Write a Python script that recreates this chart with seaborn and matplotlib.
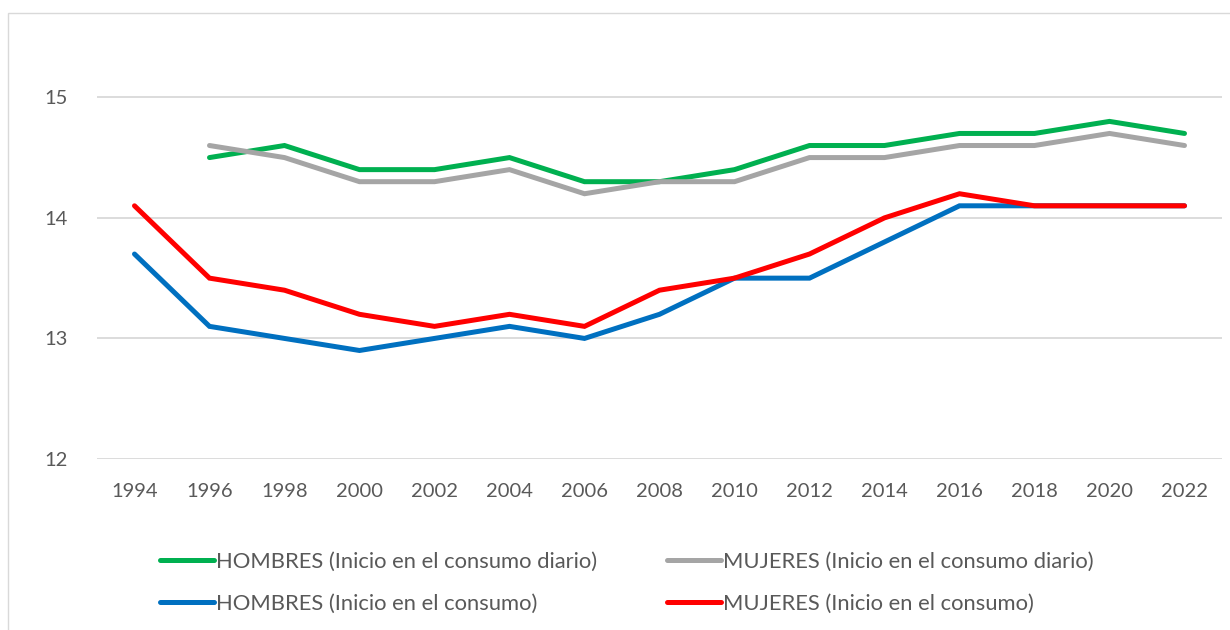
import pandas as pd
import numpy as np
import matplotlib.pyplot as plt
import seaborn as sns
from matplotlib.patches import Rectangle

years = list(range(1994, 2023, 2))
hombres_diario = [np.nan, 14.5, 14.6, 14.4, 14.4, 14.5, 14.3, 14.3, 14.4, 14.6, 14.6, 14.7, 14.7, 14.8, 14.7]
mujeres_diario = [np.nan, 14.6, 14.5, 14.3, 14.3, 14.4, 14.2, 14.3, 14.3, 14.5, 14.5, 14.6, 14.6, 14.7, 14.6]
hombres_inicio = [13.7, 13.1, 13.0, 12.9, 13.0, 13.1, 13.0, 13.2, 13.5, 13.5, 13.8, 14.1, 14.1, 14.1, 14.1]
mujeres_inicio = [14.1, 13.5, 13.4, 13.2, 13.1, 13.2, 13.1, 13.4, 13.5, 13.7, 14.0, 14.2, 14.1, 14.1, 14.1]

series = {
    'HOMBRES (Inicio en el consumo diario)': hombres_diario,
    'MUJERES (Inicio en el consumo diario)': mujeres_diario,
    'HOMBRES (Inicio en el consumo)': hombres_inicio,
    'MUJERES (Inicio en el consumo)': mujeres_inicio,
}
colors = ['#00B050', '#A5A5A5', '#0070C0', '#FF0000']

df = pd.DataFrame({'Año': years, **series})
long = df.melt(id_vars='Año', var_name='Serie', value_name='Edad').dropna()

sns.set_style('white')
plt.rcParams['font.family'] = ['Lato', 'DejaVu Sans']

fig = plt.figure(figsize=(12.3, 6.3), dpi=100)
ax = fig.add_axes([97 / 1230, 1 - 459 / 630, 1125 / 1230, 422 / 630])

sns.lineplot(data=long, x='Año', y='Edad', hue='Serie', hue_order=list(series.keys()),
             palette=colors, linewidth=3.6, ax=ax, legend=True,
             solid_capstyle='round', solid_joinstyle='miter')

ax.set_xlim(1993, 2023)
ax.set_ylim(12, 15.5)
ax.set_xticks(years)
ax.set_yticks([12, 13, 14, 15])
ax.set_xlabel('')
ax.set_ylabel('')
ax.grid(axis='y', color='#D9D9D9', linewidth=1.3)
ax.set_axisbelow(True)
for s in ax.spines.values():
    s.set_visible(False)
ax.tick_params(axis='both', length=0, labelsize=14.5, labelcolor='#595959')
ax.tick_params(axis='x', pad=17)
ax.tick_params(axis='y', pad=21)

# legend: 2 columns, rows green|gray and blue|red
handles, labels = ax.get_legend_handles_labels()
ax.get_legend().remove()
order = [0, 2, 1, 3]
leg = fig.legend([handles[i] for i in order], [labels[i] for i in order],
                 ncol=2, frameon=False, fontsize=15.8, labelcolor='#595959',
                 handlelength=2.45, handletextpad=0.1, columnspacing=3.2,
                 labelspacing=1.0, loc='upper left',
                 bbox_to_anchor=(140 / 1230, 1 - 532 / 630))
for h in leg.get_lines():
    h.set_linewidth(3.6)
    h.set_solid_capstyle('round')

# outer chart border
fig.patches.append(Rectangle((8 / 1230, -0.05), 1.2, 1 - 13 / 630 + 0.05,
                             transform=fig.transFigure, fill=False,
                             edgecolor='#D9D9D9', linewidth=1.0))

fig.savefig('out.png', dpi=100)
